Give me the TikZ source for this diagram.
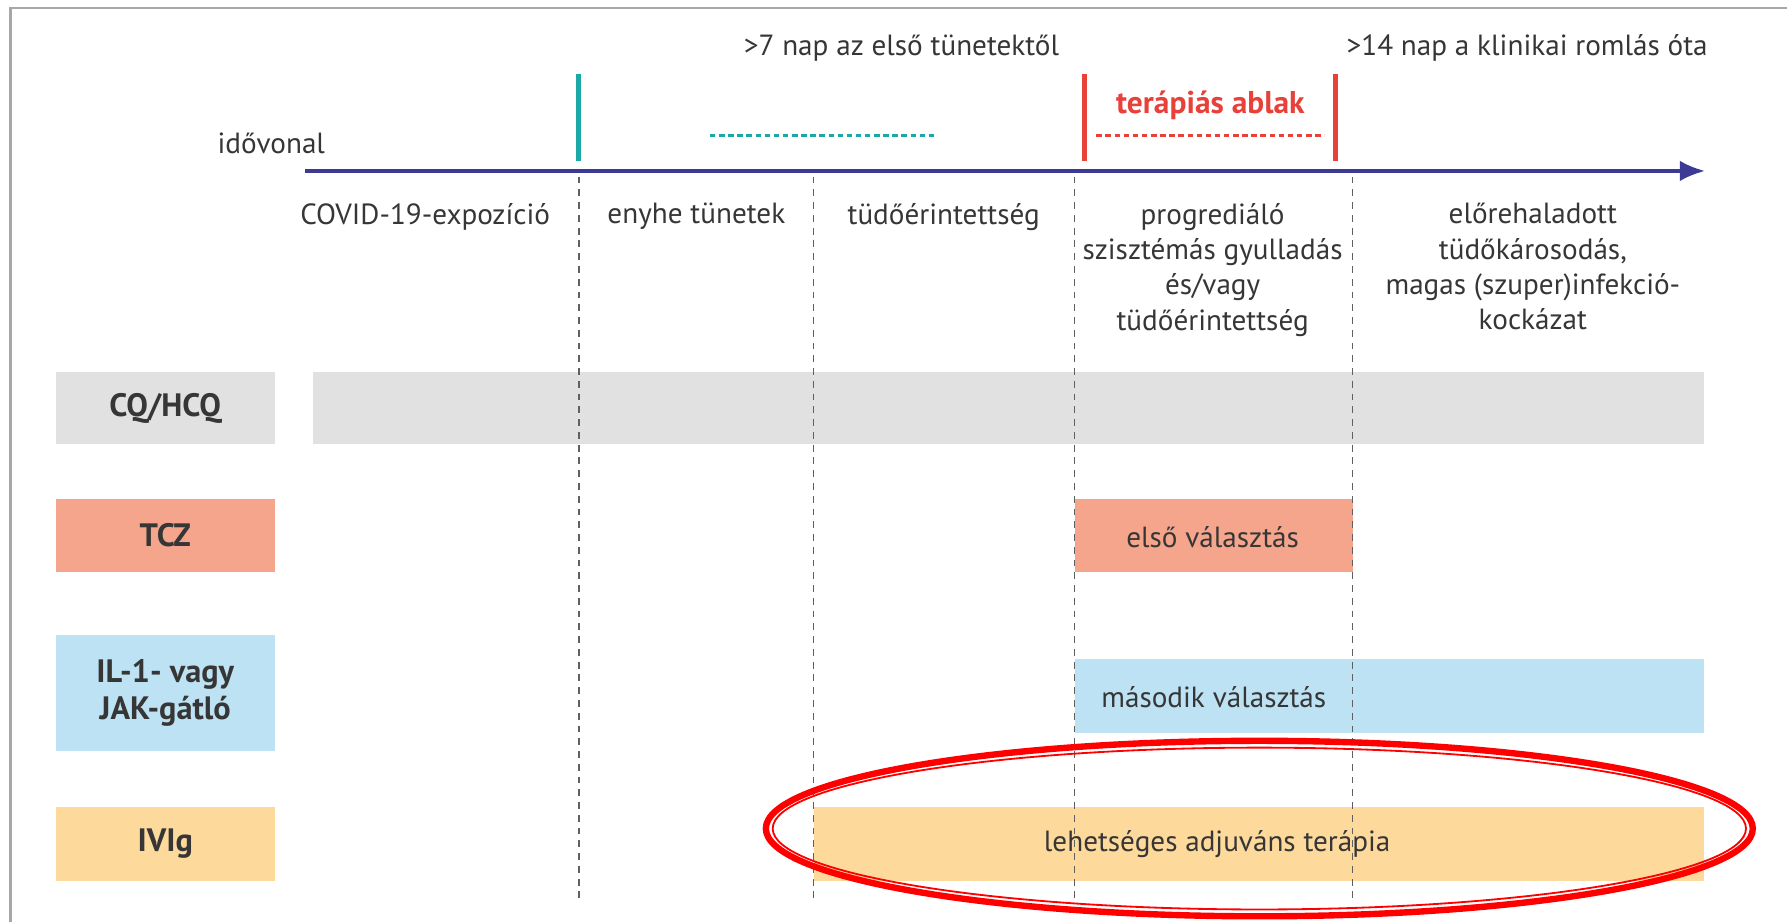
\documentclass[tikz,border=0pt]{standalone}
\usepackage{fontspec}
\setmainfont{PT Sans}
\usetikzlibrary{arrows.meta}
\definecolor{framegray}{HTML}{A8A6A8}
\definecolor{txtgray}{HTML}{363636}
\definecolor{axisblue}{HTML}{3D3A96}
\definecolor{tealbar}{HTML}{1AA9A8}
\definecolor{redbar}{HTML}{E8413A}
\definecolor{dashgray}{HTML}{606060}
\definecolor{cqgray}{HTML}{E0E1E0}
\definecolor{tczsalmon}{HTML}{F6A58D}
\definecolor{ilblue}{HTML}{BDE2F4}
\definecolor{ivorange}{HTML}{FDD99B}
\definecolor{ringred}{HTML}{FF0000}
\tikzset{
  txt/.style={text=txtgray, font=\fontsize{12.8}{15.5}\selectfont, inner sep=0pt, align=center},
  rowlabel/.style={inner sep=0pt, minimum width=96pt, text=txtgray, font=\fontsize{14.2}{16.5}\selectfont\bfseries, align=center},
  rowbar/.style={inner sep=0pt},
  dashline/.style={draw=dashgray, line width=0.6pt, dash pattern=on 3pt off 2.6pt},
  winline/.style={line width=2.2pt},
  dotline/.style={line width=1pt, dash pattern=on 2.4pt off 1.6pt},
}
\begin{document}
\begin{tikzpicture}[x=0.5pt,y=-0.5pt]
\useasboundingbox (0,0) rectangle (1568,809);
\fill[white] (0,0) rectangle (1568,809);
% frame
\draw[framegray, line width=1.2pt] (9,812) -- (9,7) -- (1570,7);

% row bars
\node[rowlabel, fill=cqgray, minimum height=32pt] (cq) at (145,358) {CQ/HCQ};
\node[rowbar, fill=cqgray, minimum width=610pt, minimum height=32pt] (cqbar) at (885,358) {};
\node[rowlabel, fill=tczsalmon, minimum height=32pt] (tcz) at (145,470) {TCZ};
\node[rowbar, fill=tczsalmon, minimum width=122pt, minimum height=32pt] (tczbar) at (1065,470) {};
\node[rowlabel, fill=ilblue, minimum height=51pt] (il) at (145,608) {IL-1- vagy\\JAK-gátló};
\node[rowbar, fill=ilblue, minimum width=276pt, minimum height=32.5pt] (ilbar) at (1219,610.5) {};
\node[rowlabel, fill=ivorange, minimum height=32.5pt] (iv) at (145,740.5) {IVIg};
\node[rowbar, fill=ivorange, minimum width=390.5pt, minimum height=32.5pt] (ivbar) at (1104.5,740.5) {};

\node[txt] (tcztext) at (1064,471) {első választás};
\node[txt, anchor=west] (iltext) at (966,612) {második választás};
\node[txt] (ivtext) at (1068,741) {lehetséges adjuváns terápia};

% dashed separators
\foreach \xx in {508,714,943,1187} \draw[dashline] (\xx,155) -- (\xx,792);

% timeline
\coordinate (axstart) at (268,150);
\coordinate (axend) at (1496,150);
\draw[axisblue, line width=1.4pt, -{Latex[length=11pt,width=9pt]}] (axstart) -- (axend);
\node[txt] (idovonal) at (238,126) {idővonal};

% markers
\draw[tealbar, winline] (508,65) -- (508,141);
\draw[tealbar, dotline] (623,119) -- (822,119);
\draw[redbar, winline] (952,65) -- (952,141);
\draw[redbar, winline] (1172,65) -- (1172,141);
\draw[redbar, dotline] (962,119) -- (1162,119);
\node[text=redbar, font=\fontsize{13.8}{16}\selectfont\bfseries, inner sep=0pt] (ablak) at (1062,92) {terápiás ablak};

\node[txt] (hettop) at (791,42) {>7 nap az első tünetektől};
\node[txt] (tizennegytop) at (1340,42) {>14 nap a klinikai romlás óta};

% column texts
\node[txt, anchor=north] (c1) at (373,178) {COVID-19-expozíció};
\node[txt, anchor=north] (c2) at (611,178) {enyhe tünetek};
\node[txt, anchor=north] (c3) at (828,178) {tüdőérintettség};
\node[txt, anchor=north] (c4) at (1064,178) {progrediáló\\szisztémás gyulladás\\és/vagy\\tüdőérintettség};
\node[txt, anchor=north] (c5) at (1345,178) {előrehaladott\\tüdőkárosodás,\\magas (szuper)infekció-\\kockázat};

% highlight ring
\draw[ringred, line width=2.8pt] (1105,727) ellipse [x radius=216.5pt, y radius=38.5pt];
\draw[ringred, line width=0.8pt] (1105,727) ellipse [x radius=213.5pt, y radius=35.5pt];
\end{tikzpicture}
\end{document}
